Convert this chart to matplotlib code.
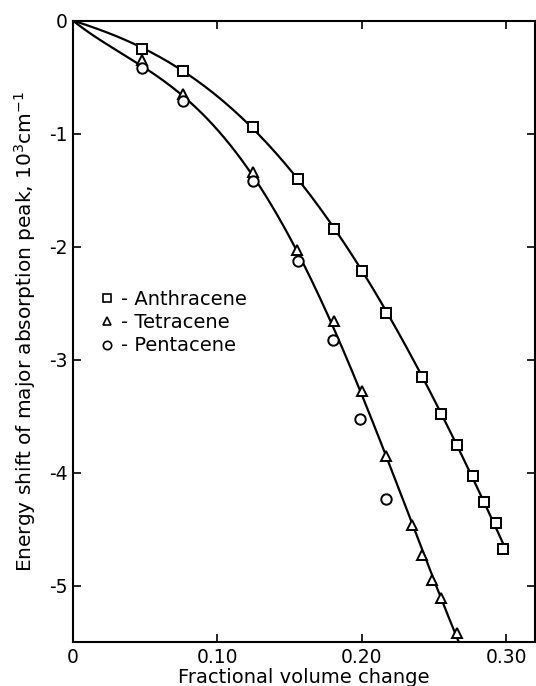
import numpy as np
from matplotlib import pyplot as plt, rcParams
from matplotlib.lines import Line2D

rcParams.update({
    'font.family': 'DejaVu Sans',
    'font.size': 13.5,
    'axes.linewidth': 1.5,
    'xtick.direction': 'in',
    'ytick.direction': 'in',
})

# values
anth_x = [0.048, 0.076, 0.125, 0.156, 0.181, 0.200, 0.217, 0.242, 0.255, 0.266, 0.277, 0.285, 0.293, 0.298]
anth_y = [-0.25, -0.45, -0.94, -1.40, -1.84, -2.22, -2.59, -3.15, -3.48, -3.76, -4.03, -4.26, -4.45, -4.68]
tetr_x = [0.048, 0.076, 0.125, 0.155, 0.181, 0.200, 0.217, 0.235, 0.242, 0.249, 0.255, 0.266]
tetr_y = [-0.35, -0.65, -1.34, -2.03, -2.66, -3.28, -3.85, -4.46, -4.73, -4.95, -5.11, -5.42]
pent_x = [0.048, 0.076, 0.125, 0.156, 0.180, 0.199, 0.217]
pent_y = [-0.42, -0.71, -1.42, -2.13, -2.83, -3.53, -4.23]

xticks = [0, 0.10, 0.20, 0.30]
xticklabels = ['0', '0.10', '0.20', '0.30']
yticks = [0, -1, -2, -3, -4, -5]
yticklabels = ['0', '-1', '-2', '-3', '-4', '-5']


def fit_origin(x, y, deg=4):
    # least squares polynomial forced through (0, 0)
    x = np.asarray(x)
    A = np.column_stack([x ** k for k in range(1, deg + 1)])
    coef = np.linalg.lstsq(A, np.asarray(y), rcond=None)[0]
    return lambda t: sum(c * t ** (k + 1) for k, c in enumerate(coef))


fig = plt.figure(figsize=(5.36, 6.86), dpi=100)
ax = fig.add_axes([0.136, 0.064, 0.862, 0.906])

fa = fit_origin(anth_x, anth_y)
xa = np.linspace(0, 0.301, 200)
ax.plot(xa, fa(xa), color='black', lw=1.6)

# the lower curve is drawn through tetracene and the early pentacene points
ft = fit_origin(tetr_x + pent_x[:4], tetr_y + pent_y[:4])
xt = np.linspace(0, 0.268, 200)
ax.plot(xt, ft(xt), color='black', lw=1.6)

mk = dict(linestyle='none', markerfacecolor='white', markeredgecolor='black',
          markeredgewidth=1.4, markersize=7.5)
ax.plot(anth_x, anth_y, marker='s', **mk)
ax.plot(tetr_x, tetr_y, marker='^', **mk)
ax.plot(pent_x, pent_y, marker='o', **mk)

handles = [Line2D([], [], marker=m, linestyle='none', markerfacecolor='white',
                  markeredgecolor='black', markeredgewidth=1.2, markersize=6)
           for m in ['s', '^', 'o']]
ax.legend(handles, ['- Anthracene', '- Tetracene', '- Pentacene'],
          loc='upper left', bbox_to_anchor=(0.02, 0.595), frameon=False,
          handlelength=0.8, handletextpad=0.3, labelspacing=0.22, fontsize=14)

ax.set_xlim(0, 0.32)
ax.set_ylim(-5.5, 0)
ax.set_xticks(xticks)
ax.set_xticklabels(xticklabels)
ax.set_yticks(yticks)
ax.set_yticklabels(yticklabels)
ax.tick_params(top=True, right=True, length=6, width=1.2, pad=4)
ax.set_xlabel('Fractional volume change', fontsize=14, labelpad=1)
ax.set_ylabel('Energy shift of major absorption peak, 10$^3$cm$^{-1}$',
              fontsize=14.5, labelpad=8)

fig.savefig('out.png', dpi=100)
